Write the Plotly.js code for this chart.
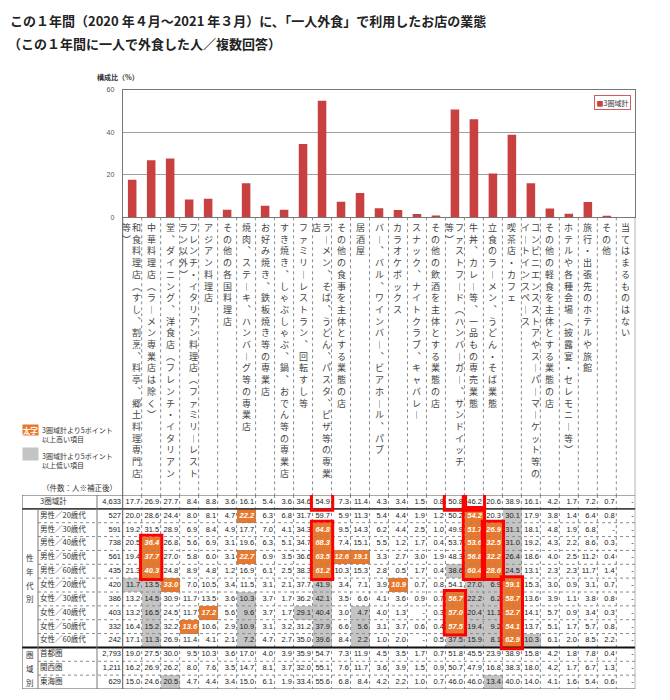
<!DOCTYPE html>
<html><head><meta charset="utf-8">
<script src="https://cdn.plot.ly/plotly-3.0.1.min.js"></script>
<style>body{margin:0;background:#fff}#chart{width:670px;height:700px}</style>
</head><body><div id="chart"></div>
<script>
// ---------------- data ----------------
const categories = [
  '和食料理店（すし、割烹、料亭、郷土料理専門店\n等）',
  '中華料理店（ラーメン専業店は除く）',
  '堂、ダイニング、洋食店（フレンチ・イタリアン',
  'フレンチ・イタリアン料理店（ファミリーレスト\nラン以外）',
  'アジアン料理店',
  'その他の各国料理店',
  '焼肉、ステーキ、ハンバーグ等の専業店',
  'お好み焼き、鉄板焼き等の専業店',
  'すき焼き、しゃぶしゃぶ、鍋、おでん等の専業店',
  'ファミリーレストラン、回転すし等',
  'ラーメン、そば、うどん、パスタ、ピザ等の専業\n店',
  'その他の食事を主体とする業態の店',
  '居酒屋',
  'バー、バル、ワインバー、ビアホール、パブ',
  'カラオケボックス',
  'スナック、ナイトクラブ、キャバレー',
  'その他の飲酒を主体とする業態の店',
  'ファストフード（ハンバーガー、サンドイッチ\n等）',
  '牛丼、カレー等、一品もの専売業態',
  '立食のラーメン、うどん・そば業態',
  '喫茶店・カフェ',
  'コンビニエンスストアやスーパーマーケット等の\nイートインスペース',
  'その他の軽食を主体とする業態の店',
  'ホテルや各種会場（披露宴・セレモニー等）',
  '旅行・出張先のホテルや旅館',
  'その他',
  '当てはまるものはない'
];
const rowLabels = ['3圏域計','男性／20歳代','男性／30歳代','男性／40歳代','男性／50歳代','男性／60歳代',
  '女性／20歳代','女性／30歳代','女性／40歳代','女性／50歳代','女性／60歳代','首都圏','関西圏','東海圏'];
const counts = ['4,633','527','591','738','561','435','420','386','403','332','242','2,793','1,211','629'];

const total    = [17.7,26.9,27.7,8.4,8.8,3.6,16.1,5.4,3.6,34.6,54.9,7.3,11.4,4.3,3.4,1.5,0.8,50.8,46.2,20.6,38.9,16.1,4.2,1.7,7.2,0.7,null];
const male20   = [20.0,28.6,24.4,8.0,8.1,4.7,22.2,6.3,6.8,31.7,59.7,5.9,11.3,5.4,4.4,1.9,1.2,50.2,54.2,20.3,30.1,17.9,3.8,1.4,6.4,0.8,null];
const male30   = [19.2,31.5,28.9,6.9,8.4,4.9,17.7,7.0,4.1,34.3,64.8,9.5,14.3,6.2,4.4,2.5,1.0,49.9,51.7,26.9,31.1,18.1,4.8,1.9,6.8,null,null];
const male40   = [20.5,36.4,26.8,5.6,6.9,3.1,19.6,6.3,5.1,34.7,68.3,7.4,15.1,5.5,1.2,1.7,0.4,53.7,53.6,32.5,31.0,19.2,4.3,2.2,8.6,0.3,null];
const male50   = [19.4,37.7,27.0,5.8,6.0,3.1,22.7,6.9,3.5,36.6,63.5,12.6,19.1,3.3,2.7,3.0,1.9,48.3,56.8,32.2,26.4,18.6,4.0,2.5,11.2,0.4,null];
const male60   = [21.3,40.3,24.8,8.9,4.8,1.2,16.9,6.1,2.5,38.3,61.2,10.3,15.3,2.8,0.5,1.7,0.4,38.6,60.4,28.6,24.5,13.1,2.3,2.3,11.7,1.4,null];
const female20 = [11.7,13.5,33.0,7.0,10.5,3.4,11.5,3.1,2.1,37.7,41.9,3.4,7.1,3.9,10.9,0.7,0.8,54.1,27.0,6.9,59.1,15.3,3.0,0.9,3.1,0.7,null];
const female30 = [13.2,14.5,30.9,11.7,13.5,3.6,10.3,3.7,1.7,36.2,42.1,3.5,6.6,4.1,3.6,0.9,0.7,56.7,22.2,6.2,58.7,13.6,3.9,1.1,3.8,0.8,null];
const female40 = [13.2,16.5,24.5,11.7,17.2,5.6,9.6,3.7,1.7,29.1,40.4,3.0,4.7,4.0,1.3,null,0.3,57.0,20.4,11.1,52.7,14.1,5.7,0.9,3.4,0.3,null];
const female50 = [16.4,15.2,32.2,13.6,10.6,2.9,10.9,3.1,3.2,31.2,37.9,6.6,5.6,3.1,3.7,0.6,0.4,57.5,19.4,9.2,54.1,13.7,5.1,1.7,5.7,0.8,null];
const female60 = [17.1,11.3,26.9,11.4,4.1,2.1,7.2,4.7,2.7,35.0,39.6,8.4,2.2,1.0,2.0,null,0.5,37.5,15.9,8.1,62.9,10.3,6.1,2.0,8.5,2.2,null];
const shutoken = [19.0,27.5,30.0,9.5,10.3,3.6,17.0,4.0,3.9,35.9,54.7,7.3,11.9,4.5,3.5,1.7,0.7,51.8,45.5,23.9,38.9,15.8,4.2,1.8,7.8,0.4,null];
const kansai   = [16.2,26.9,26.2,8.0,7.6,3.5,14.7,8.1,3.7,32.0,55.1,7.6,11.7,3.6,3.9,1.5,0.9,50.7,47.9,16.8,38.3,18.0,4.2,1.7,6.7,1.3,null];
const tokai    = [15.0,24.6,20.5,4.7,4.4,3.4,15.0,6.1,1.9,33.4,55.6,6.8,8.4,4.2,2.2,1.0,0.7,46.0,46.0,13.4,40.0,14.0,4.1,1.6,5.4,0.6,null];
const tableRows = [total,male20,male30,male40,male50,male60,female20,female30,female40,female50,female60,shutoken,kansai,tokai];
// red frames: [column index, first row, last row]
const redBoxes = [[10,0,0],[17,0,0],[18,0,0],[1,3,5],[10,2,5],[18,1,5],[19,2,5],[17,7,9],[20,6,10]];
const groupLabels = [['性',4],['年',5],['代',6],['別',7],['圏',11],['域',12],['別',13]];

// ---------------- layout helpers ----------------
const W = 670, H = 700;
const X = px => px / W, Y = py => 1 - py / H;
const plotL = 122.7, plotR = 635.3, nCol = categories.length, colW = (plotR - plotL) / nCol;
const dX = px => (px - plotL) / colW - 0.5;
const JP = '"Noto Sans CJK JP", "Noto Sans CJK SC", sans-serif';
const NUM = '"Liberation Sans", Arial, sans-serif';
const ORANGE = '#e8782c', GRAY = '#c4c4c4', BAR = '#c8403f', TXT = '#222';
const vmap = {'（':'︵','）':'︶','、':'︑','ー':'︱'};
const vert = s => Array.from(s).map(ch => vmap[ch] || ch).join('<br>');

// highlight codes from the legend rule (±5 points vs 3圏域計)
const codes = tableRows.map((row, r) => row.map((v, c) => {
  if (r === 0) return 0;
  const d = (v ?? 0) - (total[c] ?? 0);
  if (d >= 4.95) return 1;
  if (d <= -4.95) return 2;
  return 0;
}));

const colIdx = categories.map((_, i) => i);
const traces = [];
traces.push({type:'bar', x: colIdx, y: total, width: 0.45, marker:{color: BAR}, xaxis:'x', yaxis:'y', hoverinfo:'skip', showlegend:false});
traces.push({type:'heatmap', z: codes, x: colIdx, y: rowLabels.map((_, i) => i), xaxis:'x2', yaxis:'y2',
  colorscale:[[0,'#ffffff'],[0.5,ORANGE],[1,GRAY]], zmin:0, zmax:2, showscale:false, hoverinfo:'skip'});

const nx=[],ny=[],nt=[],hx=[],hy=[],ht=[];
tableRows.forEach((row, r) => row.forEach((v, c) => {
  const t = v == null ? '-' : v.toFixed(1);
  if (codes[r][c] === 1) { hx.push(c + 0.42); hy.push(r); ht.push(t); }
  else { nx.push(c + 0.42); ny.push(r); nt.push(t); }
}));
traces.push({type:'scatter', mode:'text', x:nx, y:ny, text:nt, textposition:'middle left', xaxis:'x2', yaxis:'y2',
  textfont:{family:NUM, size:7.5, color:TXT}, hoverinfo:'skip', showlegend:false, cliponaxis:false});
traces.push({type:'scatter', mode:'text', x:hx, y:hy, text:ht, textposition:'middle left', xaxis:'x2', yaxis:'y2',
  textfont:{family:NUM, size:7.5, color:'#ffffff', weight:'bold', style:'italic'}, hoverinfo:'skip', showlegend:false, cliponaxis:false});
traces.push({type:'scatter', mode:'text', x: counts.map(() => dX(121)), y: counts.map((_, i) => i), text: counts,
  textposition:'middle left', xaxis:'x2', yaxis:'y2', textfont:{family:NUM, size:7.5, color:TXT}, hoverinfo:'skip', showlegend:false, cliponaxis:false});
traces.push({type:'scatter', mode:'text', x: rowLabels.map(() => dX(40)), y: rowLabels.map((_, i) => i), text: rowLabels,
  textposition:'middle right', xaxis:'x2', yaxis:'y2', textfont:{family:JP, size:7.5, color:'#333'}, hoverinfo:'skip', showlegend:false, cliponaxis:false});

// ---------------- shapes ----------------
const shapes = [];
const LINE = '#777', DOT = '#8a8a8a';
const nRows = rowLabels.length;
for (let k = 1; k < nCol; k++) {
  shapes.push({type:'line', xref:'x2', yref:'paper', x0:k-0.5, x1:k-0.5, y0:Y(217.3), y1:Y(495), line:{color:DOT, width:1, dash:'dot'}});
  shapes.push({type:'line', xref:'x2', yref:'y2', x0:k-0.5, x1:k-0.5, y0:-0.5, y1:nRows-0.5, line:{color:DOT, width:1, dash:'dot'}});
}
for (let r = 1; r < nRows; r++) {
  if (r === 1 || r === 11) continue;
  shapes.push({type:'line', xref:'x2', yref:'y2', x0:dX(38), x1:nCol-0.5, y0:r-0.5, y1:r-0.5, line:{color:DOT, width:1, dash:'dot'}});
}
shapes.push({type:'line', xref:'x2', yref:'y2', x0:dX(22), x1:nCol-0.5, y0:0.5, y1:0.5, line:{color:'#444', width:1.6}});
shapes.push({type:'line', xref:'x2', yref:'y2', x0:dX(22), x1:nCol-0.5, y0:10.5, y1:10.5, line:{color:'#111', width:2}});
shapes.push({type:'rect', xref:'x2', yref:'y2', x0:dX(22), x1:nCol-0.5, y0:-0.5, y1:nRows-0.5, line:{color:'#555', width:1}});
shapes.push({type:'line', xref:'x2', yref:'y2', x0:dX(38), x1:dX(38), y0:0.5, y1:nRows-0.5, line:{color:LINE, width:1}});
shapes.push({type:'line', xref:'x2', yref:'y2', x0:dX(97), x1:dX(97), y0:-0.5, y1:nRows-0.5, line:{color:LINE, width:1}});
shapes.push({type:'line', xref:'x2', yref:'y2', x0:-0.5, x1:-0.5, y0:-0.5, y1:nRows-0.5, line:{color:'#555', width:1}});
shapes.push({type:'line', xref:'x2', yref:'paper', x0:-0.5, x1:-0.5, y0:Y(217.3), y1:Y(495), line:{color:'#555', width:1}});
shapes.push({type:'line', xref:'x2', yref:'paper', x0:nCol-0.5, x1:nCol-0.5, y0:Y(217.3), y1:Y(495), line:{color:'#555', width:1}});
redBoxes.forEach(([c, r0, r1]) => shapes.push({type:'rect', xref:'x2', yref:'y2', x0:c-0.56, x1:c+0.56, y0:r0-0.6, y1:r1+0.6,
  line:{color:'#ff0000', width:3}}));

// ---------------- annotations ----------------
const ann = [];
ann.push({xref:'paper', yref:'paper', x:X(8), y:Y(20), xanchor:'left', yanchor:'middle', showarrow:false,
  text:'この１年間（2020 年４月～2021 年３月）に、「一人外食」で利用したお店の業態', font:{family:JP, size:13, color:'#222', weight:'bold'}});
ann.push({xref:'paper', yref:'paper', x:X(6), y:Y(44), xanchor:'left', yanchor:'middle', showarrow:false,
  text:'（この１年間に一人で外食した人／複数回答）', font:{family:JP, size:13, color:'#222', weight:'bold'}});
ann.push({xref:'paper', yref:'paper', x:X(118), y:Y(77), xanchor:'center', yanchor:'middle', showarrow:false,
  text:'構成比（%）', font:{family:JP, size:7, color:'#333', weight:'bold'}});
ann.push({xref:'paper', yref:'paper', x:X(631), y:Y(103), xanchor:'right', yanchor:'middle', showarrow:false,
  text:'<span style="color:'+BAR+'">■</span>3圏域計', font:{family:JP, size:7, color:'#333'}, bordercolor:'#d75a5a', borderwidth:1, borderpad:1.5, bgcolor:'#fff'});
ann.push({xref:'paper', yref:'paper', x:X(22), y:Y(429.5), xanchor:'left', yanchor:'middle', showarrow:false,
  text:'<b>太字</b>', font:{family:JP, size:7.5, color:'#fff'}, bgcolor:ORANGE, width:15, height:10, borderpad:0});
ann.push({xref:'paper', yref:'paper', x:X(22), y:Y(454), xanchor:'left', yanchor:'middle', showarrow:false,
  text:' ', font:{family:JP, size:7.5, color:'#fff'}, bgcolor:GRAY, width:15, height:12, borderpad:0});
ann.push({xref:'paper', yref:'paper', x:X(40), y:Y(434.5), xanchor:'left', yanchor:'middle', showarrow:false, align:'left',
  text:'3圏域計より5ポイント<br>以上高い項目', font:{family:JP, size:7, color:'#333'}});
ann.push({xref:'paper', yref:'paper', x:X(40), y:Y(460), xanchor:'left', yanchor:'middle', showarrow:false, align:'left',
  text:'3圏域計より5ポイント<br>以上低い項目', font:{family:JP, size:7, color:'#333'}});
ann.push({xref:'paper', yref:'paper', x:X(119), y:Y(487.5), xanchor:'right', yanchor:'middle', showarrow:false,
  text:'（件数：人※補正後）', font:{family:JP, size:7.5, color:'#333'}});
groupLabels.forEach(([ch, r]) => ann.push({xref:'x2', yref:'y2', x:dX(30), y:r, showarrow:false, text:ch,
  font:{family:JP, size:7.5, color:'#333'}}));
categories.forEach((name, i) => {
  const lines = name.split('\n');
  const offs = lines.length === 2 ? [0.24, -0.28] : [0];
  lines.forEach((ln, j) => ann.push({xref:'x2', yref:'paper', x:i + offs[j], y:Y(219), xanchor:'center', yanchor:'top',
    showarrow:false, text:vert(ln), align:'center', font:{family:JP, size:9, color:'#444'}}));
});

const layout = {
  width:W, height:H, margin:{l:0, r:0, t:0, b:0}, paper_bgcolor:'#fff', plot_bgcolor:'rgba(0,0,0,0)', showlegend:false,
  xaxis:{domain:[X(plotL), X(plotR)], range:[-0.5, nCol-0.5], showticklabels:false, ticks:'', showgrid:false, zeroline:false,
    showline:true, mirror:true, linecolor:'#777', linewidth:1, fixedrange:true},
  yaxis:{domain:[Y(217.3), Y(90)], range:[0, 60], dtick:20, showgrid:true, gridcolor:'#a0a0a0', gridwidth:1, zeroline:false,
    showline:true, mirror:true, linecolor:'#777', linewidth:1, ticks:'', ticklabelstandoff:6,
    tickfont:{family:NUM, size:7, color:'#555'}, fixedrange:true},
  xaxis2:{domain:[X(22), X(plotR)], range:[dX(22), nCol-0.5], visible:false, fixedrange:true},
  yaxis2:{domain:[Y(689), Y(495)], range:[nRows-0.5, -0.5], visible:false, fixedrange:true},
  shapes, annotations: ann
};
Plotly.newPlot('chart', traces, layout, {staticPlot:true, displayModeBar:false});
</script></body></html>
